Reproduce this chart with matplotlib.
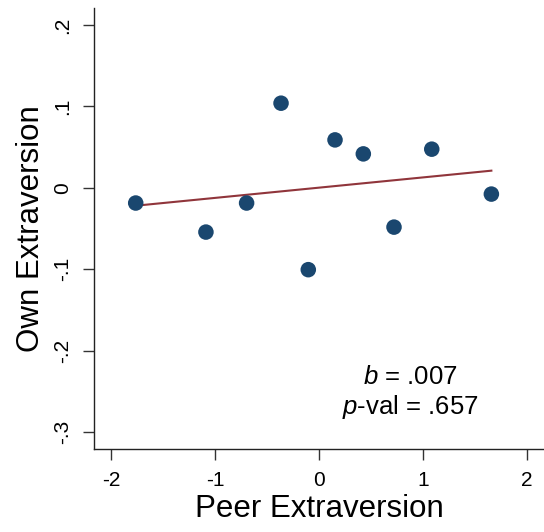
import matplotlib
matplotlib.use("Agg")
import matplotlib.pyplot as plt
import numpy as np

plt.rcParams['font.family'] = ['Liberation Sans', 'DejaVu Sans']
plt.rcParams['mathtext.fontset'] = 'custom'
plt.rcParams['mathtext.rm'] = 'Liberation Sans'
plt.rcParams['mathtext.it'] = 'Liberation Sans:italic'

peer = [-1.762, -0.365, -0.696, -1.087, -0.103, 0.154, 0.426, 1.084, 1.657, 0.721]
own = [-0.0187, 0.104, -0.0187, -0.0544, -0.1006, 0.0589, 0.0417, 0.0475, -0.0077, -0.0483]
fit_intercept = 0.0002
fit_slope = 0.0126
xticks = [-2, -1, 0, 1, 2]
yticks = [0.2, 0.1, 0, -0.1, -0.2, -0.3]
ytick_labels = ['.2', '.1', '0', '-.1', '-.2', '-.3']

fig = plt.figure(figsize=(5.44, 5.32), dpi=100)
ax = fig.add_axes([94/544, 1-449/532, 1-94/544, (449-8)/532])

xs = np.array([min(peer), max(peer)])
ax.plot(xs, fit_intercept + fit_slope*xs, color='#90353b', lw=1.5, zorder=2)
ax.scatter(peer, own, s=125, color='#1a476f', zorder=3, edgecolors='none')

ax.set_xlim(-2.163, 2.163)
ax.set_ylim(-0.321, 0.221)
ax.set_xticks(xticks)
ax.set_xticklabels([str(t) for t in xticks])
ax.set_yticks(yticks)
ax.set_yticklabels(ytick_labels, rotation=90, va='center')
ax.tick_params(axis='both', length=8, width=1, labelsize=15, color='#333333')
ax.tick_params(axis='x', pad=8)
ax.tick_params(axis='y', pad=8)
for s in ['top', 'right']:
    ax.spines[s].set_visible(False)
for s in ['left', 'bottom']:
    ax.spines[s].set_linewidth(1.0)
    ax.spines[s].set_color('#222222')

ax.set_xlabel('Peer Extraversion', fontsize=22.5, labelpad=3)
ax.set_ylabel('Own Extraversion', fontsize=22.5, labelpad=5)

ax.text(0.875, -0.233, r'$b$ = .007', fontsize=18.5, ha='center', va='center')
ax.text(0.875, -0.269, r'$p$-val = .657', fontsize=18.5, ha='center', va='center')

fig.savefig('out.png', dpi=100)
